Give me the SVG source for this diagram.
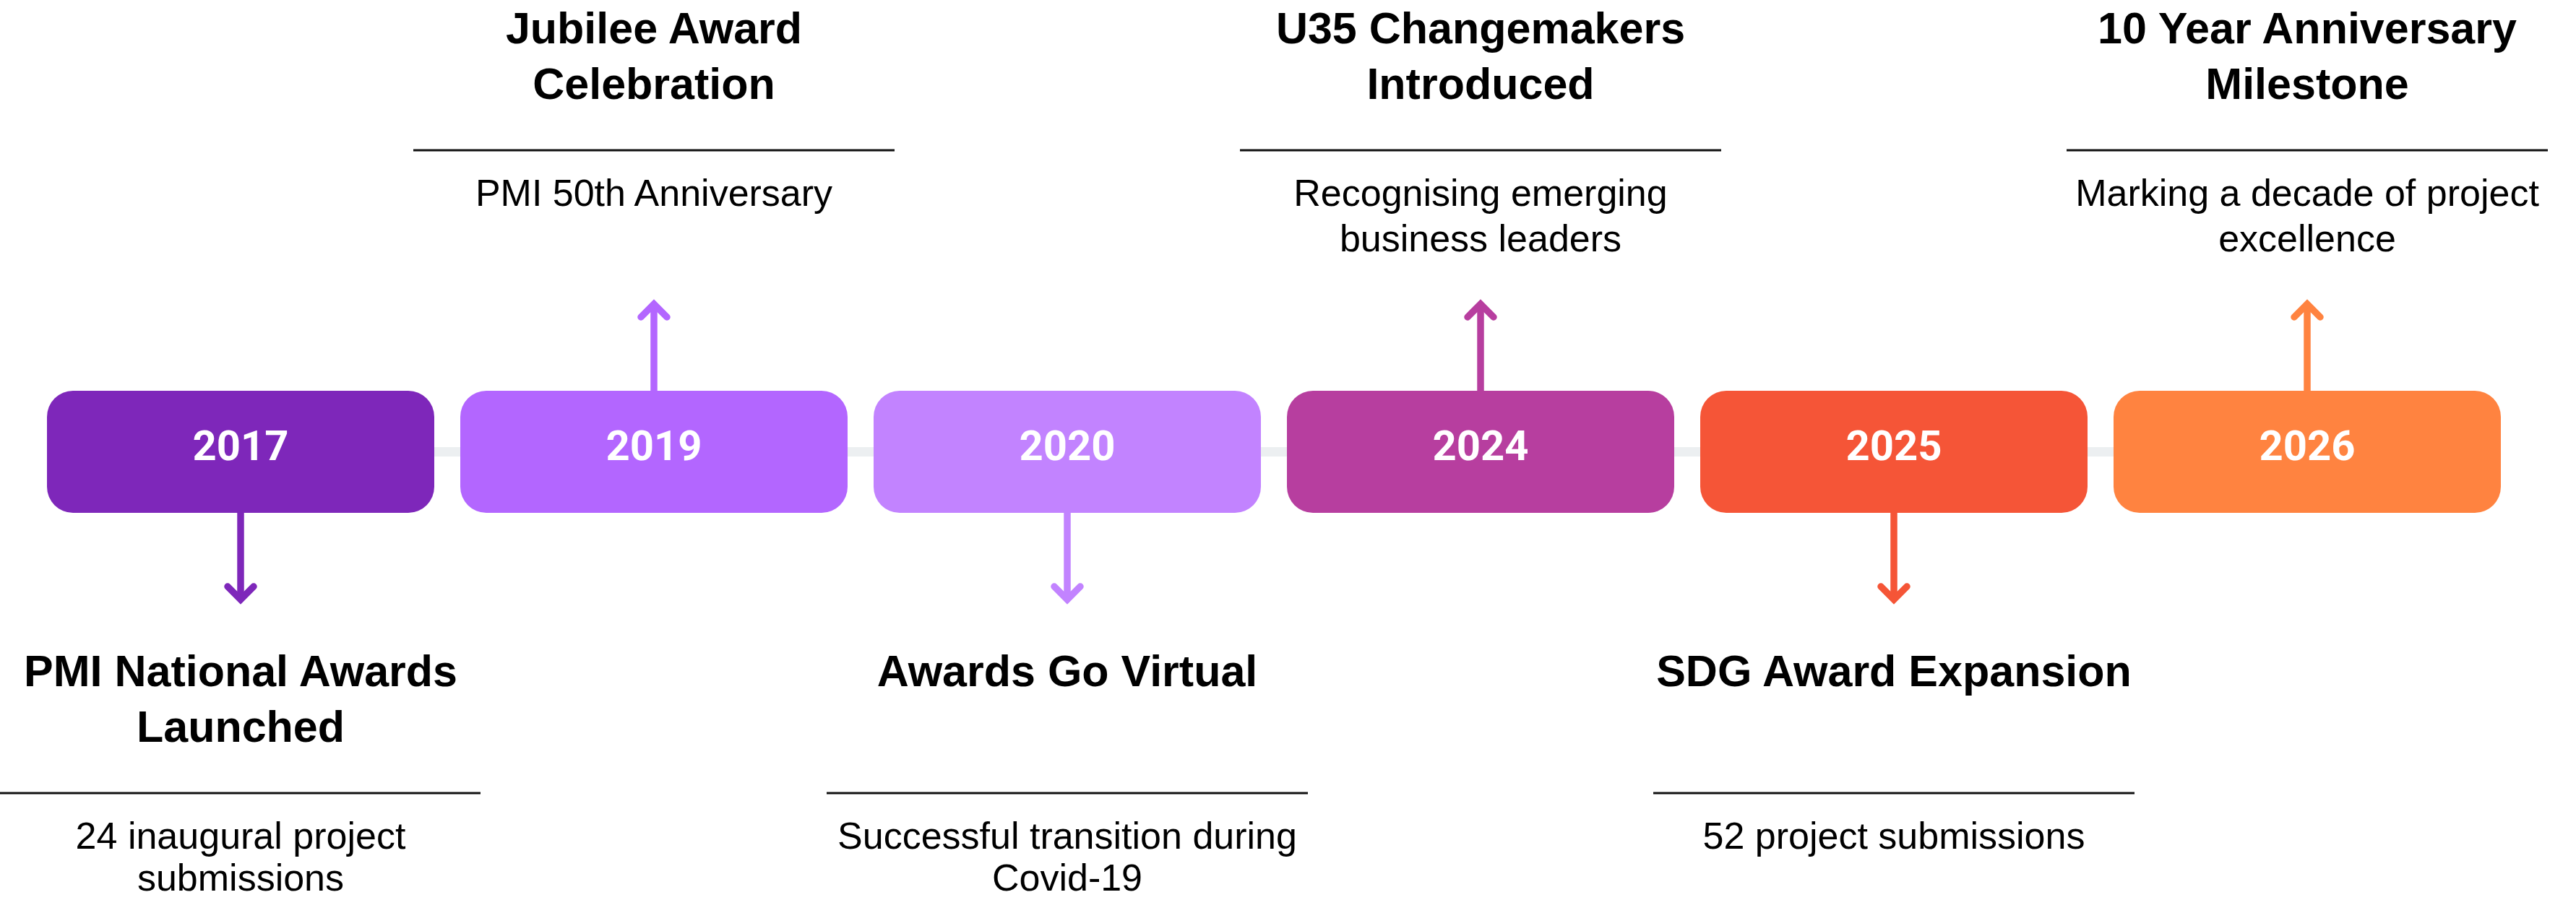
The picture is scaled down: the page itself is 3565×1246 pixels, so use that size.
<svg xmlns="http://www.w3.org/2000/svg" width="3565" height="1246" viewBox="0 0 3565 1246">
<style>
.box{stroke:none}
.year{font-family:Roboto,"Liberation Sans",sans-serif;font-weight:700;font-size:58px;fill:#ffffff;text-anchor:middle}
.title{font-family:"Liberation Sans",Arial,sans-serif;font-weight:700;font-size:61px;fill:#000000;text-anchor:middle}
.desc{font-family:"Liberation Sans",Arial,sans-serif;font-size:52px;fill:#000000;text-anchor:middle}
.sep{stroke:#111111;stroke-width:3;fill:none}
.arrow{fill:none;stroke-width:9.5}
.head{fill:none;stroke-width:9.5;stroke-linecap:round;stroke-linejoin:miter}
.track{fill:#ECEFF1}
</style>
<rect width="3565" height="1246" fill="#ffffff"/>
<g id="track"><rect class="track" x="80" y="619" width="3370" height="13"/></g>
<g id="connectors">
  <g stroke="#7E27BA"><line class="arrow" x1="333" y1="709" x2="333" y2="828"/><path class="head" d="M315,812 L333,830 L351,812"/></g>
  <g stroke="#B366FF"><line class="arrow" x1="905" y1="542" x2="905" y2="423"/><path class="head" d="M887,439 L905,421 L923,439"/></g>
  <g stroke="#C283FF"><line class="arrow" x1="1477" y1="709" x2="1477" y2="828"/><path class="head" d="M1459,812 L1477,830 L1495,812"/></g>
  <g stroke="#B73E9F"><line class="arrow" x1="2049" y1="542" x2="2049" y2="423"/><path class="head" d="M2031,439 L2049,421 L2067,439"/></g>
  <g stroke="#F55537"><line class="arrow" x1="2621" y1="709" x2="2621" y2="828"/><path class="head" d="M2603,812 L2621,830 L2639,812"/></g>
  <g stroke="#FF8340"><line class="arrow" x1="3193" y1="542" x2="3193" y2="423"/><path class="head" d="M3175,439 L3193,421 L3211,439"/></g>
</g>
<g id="node-2017">
  <rect class="box" x="65" y="541" width="536" height="169" rx="36" ry="36" fill="#7E27BA"/>
  <text class="year" x="333" y="637">2017</text>
  <text class="title" x="333" y="950">PMI National Awards</text>
  <text class="title" x="333" y="1027">Launched</text>
  <line class="sep" x1="0" y1="1098" x2="665" y2="1098"/>
  <text class="desc" x="333" y="1175">24 inaugural project</text>
  <text class="desc" x="333" y="1233">submissions</text>
</g>
<g id="node-2019">
  <rect class="box" x="637" y="541" width="536" height="169" rx="36" ry="36" fill="#B366FF"/>
  <text class="year" x="905" y="637">2019</text>
  <text class="title" x="905" y="60">Jubilee Award</text>
  <text class="title" x="905" y="137">Celebration</text>
  <line class="sep" x1="572" y1="208" x2="1238" y2="208"/>
  <text class="desc" x="905" y="285">PMI 50th Anniversary</text>
</g>
<g id="node-2020">
  <rect class="box" x="1209" y="541" width="536" height="169" rx="36" ry="36" fill="#C283FF"/>
  <text class="year" x="1477" y="637">2020</text>
  <text class="title" x="1477" y="950">Awards Go Virtual</text>
  <line class="sep" x1="1144" y1="1098" x2="1810" y2="1098"/>
  <text class="desc" x="1477" y="1175">Successful transition during</text>
  <text class="desc" x="1477" y="1233">Covid-19</text>
</g>
<g id="node-2024">
  <rect class="box" x="1781" y="541" width="536" height="169" rx="36" ry="36" fill="#B73E9F"/>
  <text class="year" x="2049" y="637">2024</text>
  <text class="title" x="2049" y="60">U35 Changemakers</text>
  <text class="title" x="2049" y="137">Introduced</text>
  <line class="sep" x1="1716" y1="208" x2="2382" y2="208"/>
  <text class="desc" x="2049" y="285">Recognising emerging</text>
  <text class="desc" x="2049" y="348">business leaders</text>
</g>
<g id="node-2025">
  <rect class="box" x="2353" y="541" width="536" height="169" rx="36" ry="36" fill="#F55537"/>
  <text class="year" x="2621" y="637">2025</text>
  <text class="title" x="2621" y="950">SDG Award Expansion</text>
  <line class="sep" x1="2288" y1="1098" x2="2954" y2="1098"/>
  <text class="desc" x="2621" y="1175">52 project submissions</text>
</g>
<g id="node-2026">
  <rect class="box" x="2925" y="541" width="536" height="169" rx="36" ry="36" fill="#FF8340"/>
  <text class="year" x="3193" y="637">2026</text>
  <text class="title" x="3193" y="60">10 Year Anniversary</text>
  <text class="title" x="3193" y="137">Milestone</text>
  <line class="sep" x1="2860" y1="208" x2="3526" y2="208"/>
  <text class="desc" x="3193" y="285">Marking a decade of project</text>
  <text class="desc" x="3193" y="348">excellence</text>
</g>
</svg>
